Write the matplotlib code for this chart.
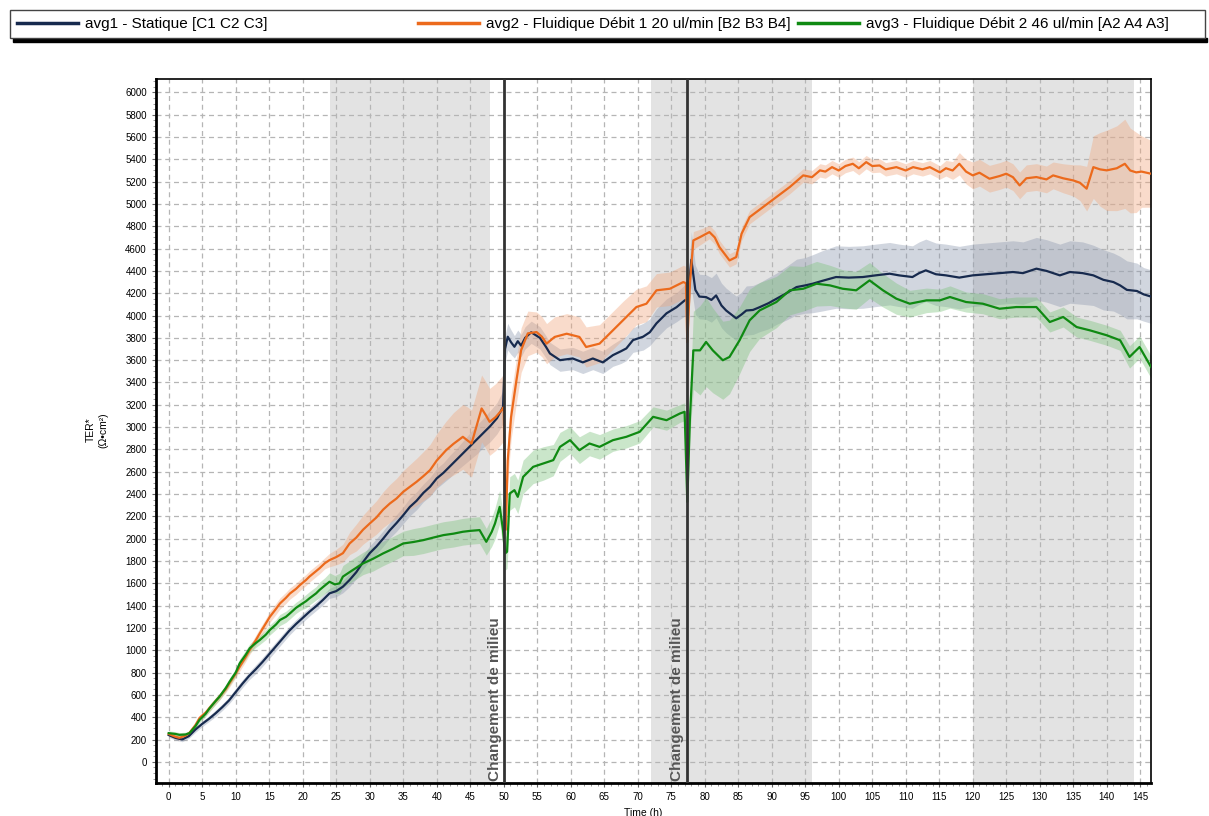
import numpy as np
import matplotlib
matplotlib.use("Agg")
import matplotlib.pyplot as plt
from matplotlib.lines import Line2D
from matplotlib.patches import Rectangle
from matplotlib.ticker import MultipleLocator

plt.rcParams['font.family'] = ['Liberation Sans', 'DejaVu Sans']

# avg1 - Statique
t1 = [0, 1, 2, 3, 4, 5, 6, 7, 8, 9, 10, 11, 12, 13, 14, 15, 16, 17, 18, 19, 20,
      21, 22, 23, 24, 25, 26, 27, 28, 29, 30, 31, 32, 33, 34, 35, 36, 37, 38, 39,
      40, 41, 42, 43, 44, 45, 46, 47, 48, 49, 49.9, 50.2, 50.6, 51.1, 51.6, 52.1,
      52.6, 53.2, 54.1, 55.4, 56.3, 56.9, 58.4, 60.3, 61.8, 63.3, 64.8, 66.3,
      67.5, 68.3, 69.3, 70.8, 71.8, 72.8, 74.3, 75.8, 77.0, 77.5, 78.0, 78.6,
      79.2, 80.2, 81.0, 81.7, 82.5, 83.2, 84.7, 85.5, 86.2, 87.2, 88.2, 89.5,
      90.7, 92.2, 93.7, 95, 96.1, 97.5, 99.6, 101.5, 103.6, 105.5, 107.6, 109,
      111, 112, 113, 114.5, 116, 118, 120, 122, 124, 126, 127.5, 129.5, 131, 133,
      134.5, 136.4, 138, 139.5, 141, 142, 143, 144.5, 145.5, 146.6]
y1 = [240, 215, 200, 230, 290, 340, 385, 435, 490, 550, 625, 700, 770, 830, 895,
      965, 1035, 1105, 1175, 1235, 1290, 1345, 1395, 1450, 1510, 1530, 1570, 1630,
      1700, 1790, 1870, 1930, 2000, 2075, 2140, 2210, 2285, 2340, 2410, 2465,
      2540, 2590, 2650, 2710, 2770, 2830, 2890, 2950, 3010, 3080, 3180, 3700,
      3810, 3760, 3720, 3770, 3730, 3800, 3850, 3800, 3720, 3660, 3600, 3615,
      3580, 3615, 3580, 3645, 3680, 3705, 3780, 3810, 3850, 3930, 4020, 4075,
      4135, 4150, 4500, 4230, 4170, 4165, 4140, 4180, 4090, 4045, 3975, 4010,
      4045, 4050, 4075, 4110, 4150, 4200, 4255, 4270, 4285, 4310, 4345, 4340,
      4345, 4360, 4375, 4360, 4345, 4380, 4405, 4370, 4360, 4340, 4360, 4370,
      4380, 4390, 4380, 4420, 4400, 4360, 4390, 4380, 4360, 4320, 4300, 4270,
      4230, 4220, 4190, 4170]
s1 = [20, 20, 20, 20, 25, 25, 25, 30, 30, 30, 35, 35, 35, 40, 40, 40, 40, 40, 40,
      40, 40, 40, 40, 45, 45, 50, 55, 60, 60, 65, 65, 70, 70, 70, 75, 75, 80, 80,
      80, 85, 90, 90, 100, 100, 110, 120, 130, 130, 140, 140, 150, 120, 120, 110,
      100, 100, 100, 100, 100, 100, 100, 100, 100, 100, 100, 100, 100, 100, 110,
      110, 110, 120, 120, 130, 130, 130, 140, 150, 250, 220, 200, 200, 200, 200,
      200, 200, 200, 200, 220, 220, 220, 230, 230, 240, 250, 250, 260, 270, 280,
      280, 280, 280, 280, 280, 280, 280, 280, 280, 280, 280, 280, 280, 280, 280,
      280, 280, 280, 280, 280, 280, 270, 270, 260, 260, 260, 250, 240, 240]

# avg2 - Fluidique Débit 1
t2 = [0, 1, 1.6, 2.5, 3.1, 4, 4.6, 5.5, 6.1, 7, 7.6, 8.5, 9.1, 10, 10.6, 11.5,
      12.1, 13, 13.6, 14.5, 15.1, 16, 16.6, 17.5, 18.1, 19, 19.6, 20.5, 21, 22,
      22.5, 23.3, 24, 25, 26, 27, 28, 29, 30, 31, 32, 33, 34, 35, 36, 37, 38, 39,
      40, 41.4, 42.5, 43.9, 44.6, 45.2, 46, 46.7, 47.3, 47.9, 48.8, 49.7, 50.0,
      50.3, 50.6, 51.1, 51.9, 52.6, 53.6, 54.9, 55.7, 56.4, 57.6, 59.4, 61.3,
      62.3, 64.3, 65.8, 67.8, 69.8, 71.3, 72.8, 74.8, 76.8, 77.2, 77.4, 77.8,
      78.3, 79.3, 80.7, 81.5, 82.2, 83.7, 84.7, 85.5, 86.7, 88.7, 90.7, 92.7,
      94.7, 96, 97.2, 98, 99, 100, 101, 102.1, 103, 104.1, 105, 106.1, 107,
      108.6, 110, 111.1, 112.5, 113.6, 115.1, 116, 117, 118, 119, 120, 121,
      122.5, 124, 125, 126, 127, 128, 129.5, 131, 132, 133.5, 135, 136, 137,
      138, 139, 140, 141.5, 142.7, 143.5, 144.4, 145.2, 146.6]
y2 = [250, 225, 215, 235, 260, 330, 393, 440, 483, 545, 585, 650, 707, 790, 853,
      940, 1003, 1090, 1152, 1240, 1300, 1370, 1419, 1470, 1509, 1550, 1585, 1630,
      1660, 1710, 1734, 1780, 1808, 1835, 1870, 1957, 2010, 2080, 2136, 2190,
      2260, 2315, 2360, 2420, 2465, 2510, 2560, 2614, 2700, 2793, 2850, 2913,
      2880, 2853, 3020, 3167, 3110, 3047, 3090, 3152, 3180, 2080, 2700, 3090,
      3420, 3690, 3840, 3852, 3810, 3748, 3808, 3837, 3808, 3718, 3748, 3837,
      3957, 4076, 4106, 4226, 4240, 4300, 4290, 3760, 4300, 4673, 4703, 4748,
      4700, 4613, 4494, 4524, 4733, 4882, 4972, 5062, 5152, 5256, 5240, 5301,
      5290, 5330, 5300, 5340, 5360, 5320, 5375, 5340, 5345, 5310, 5330, 5300,
      5330, 5310, 5330, 5283, 5320, 5300, 5360, 5290, 5256, 5280, 5226, 5250,
      5271, 5240, 5166, 5230, 5241, 5220, 5256, 5230, 5211, 5190, 5137, 5330,
      5310, 5301, 5320, 5360, 5300, 5283, 5290, 5271]
s2 = [20, 20, 20, 20, 20, 25, 25, 25, 30, 30, 30, 30, 35, 35, 40, 40, 40, 45, 45,
      45, 50, 50, 50, 50, 50, 50, 50, 50, 50, 50, 50, 50, 60, 70, 80, 100, 120,
      130, 140, 150, 160, 170, 180, 190, 200, 210, 220, 230, 240, 260, 280, 290,
      300, 300, 300, 300, 300, 300, 300, 300, 300, 250, 200, 200, 200, 200, 200,
      180, 180, 180, 180, 180, 180, 180, 170, 170, 170, 160, 160, 150, 150, 150,
      150, 100, 100, 80, 70, 60, 60, 60, 60, 60, 60, 60, 60, 60, 60, 60, 60, 60,
      60, 60, 60, 60, 60, 60, 60, 60, 60, 60, 60, 60, 60, 60, 60, 60, 70, 80,
      100, 110, 120, 120, 120, 120, 120, 120, 120, 120, 120, 120, 120, 130, 140,
      160, 200, 280, 330, 360, 380, 400, 380, 360, 320, 300]

# avg3 - Fluidique Débit 2
t3 = [0, 1, 1.6, 2.5, 3.1, 4, 4.6, 5.5, 6.1, 7, 7.6, 8.5, 9.1, 10, 10.6, 11.5,
      12.1, 13, 13.6, 14.5, 15.1, 16, 16.6, 17.5, 18.1, 19, 19.6, 20.5, 21, 22,
      22.5, 23.3, 24, 24.8, 25.5, 26, 27.5, 29, 30.5, 32, 33.5, 35, 36.5, 38,
      39.5, 41, 42.5, 43.9, 45, 46.4, 47.4, 48.2, 48.7, 49.4, 49.9, 50.2, 50.5,
      50.9, 51.6, 52.1, 52.9, 54.4, 55.9, 57.4, 58.4, 59.9, 61.3, 62.8, 64.3,
      66.3, 68.3, 70.3, 72.3, 74.3, 76.3, 77.0, 77.4, 77.8, 78.3, 79.3, 80.2,
      81.2, 82.7, 83.7, 85.2, 86.7, 88.2, 90.7, 92.7, 94.7, 96.7, 98.7, 100.6,
      102.6, 104.6, 106.6, 108.6, 110.6, 113.1, 115.1, 116.6, 119, 121.5, 124,
      126.5, 129.5, 131.5, 133.5, 135.5, 137.5, 140, 142, 143.4, 144.9, 146.6]
y3 = [257, 250, 242, 245, 257, 320, 376, 430, 480, 545, 585, 660, 719, 800, 883,
      960, 1018, 1065, 1092, 1140, 1182, 1230, 1271, 1300, 1331, 1380, 1405,
      1440, 1465, 1510, 1540, 1580, 1614, 1590, 1600, 1660, 1720, 1778, 1820,
      1868, 1910, 1957, 1970, 1987, 2010, 2032, 2045, 2062, 2070, 2077, 1972,
      2060, 2136, 2285, 2077, 1868, 1883, 2405, 2435, 2375, 2554, 2644, 2674,
      2704, 2823, 2883, 2793, 2853, 2823, 2883, 2913, 2958, 3092, 3062, 3122,
      3137, 2330, 3092, 3688, 3688, 3763, 3688, 3599, 3629, 3778, 3957, 4046,
      4121, 4226, 4240, 4285, 4270, 4240, 4226, 4315, 4226, 4151, 4106, 4136,
      4136, 4166, 4121, 4106, 4061, 4076, 4076, 3942, 3987, 3897, 3867, 3823,
      3778, 3629, 3718, 3540]
s3 = [20, 20, 20, 20, 20, 25, 25, 25, 30, 30, 30, 30, 35, 35, 40, 40, 40, 40, 40,
      45, 45, 45, 50, 50, 50, 50, 50, 60, 60, 60, 70, 70, 80, 80, 90, 100, 100,
      100, 110, 110, 110, 110, 120, 120, 120, 120, 120, 120, 120, 120, 120, 130,
      140, 150, 150, 150, 150, 150, 150, 150, 150, 150, 150, 140, 130, 120, 120,
      110, 110, 100, 100, 100, 90, 90, 80, 80, 80, 150, 350, 400, 400, 380, 350,
      330, 300, 280, 250, 230, 220, 200, 200, 180, 170, 170, 160, 150, 140, 120,
      110, 100, 100, 90, 90, 90, 90, 90, 90, 90, 90, 90, 90, 90, 100, 100, 100]

shade_ranges = [(24, 48), (72, 96), (120, 144)]
change_times = [50.1, 77.3]

labels = ['avg1 - Statique [C1 C2 C3]',
          'avg2 - Fluidique Débit 1 20 ul/min [B2 B3 B4]',
          'avg3 - Fluidique Débit 2 46 ul/min [A2 A4 A3]']
colors = ['#172a4e', '#ec6a1c', '#0f8a12']
band_colors = ['#8e9ab0', '#f2a77d', '#7cc27c']

fig = plt.figure(figsize=(12.09, 8.16), dpi=100)
ax = fig.add_axes([0.129, 0.0404, 0.823, 0.8628])

for a, b in shade_ranges:
    ax.axvspan(a, b, color='#e3e3e3', zorder=0.2, lw=0)

series = [(t1, y1, s1), (t2, y2, s2), (t3, y3, s3)]
for (t, y, s), c, bc in zip(series, colors, band_colors):
    t = np.array(t); y = np.array(y); s = np.array(s)
    ax.fill_between(t, y - s, y + s, color=bc, alpha=0.4, lw=0, zorder=2)
for (t, y, s), c in zip(series, colors):
    ax.plot(t, y, color=c, lw=1.6, zorder=3)

for xc in change_times:
    ax.axvline(xc, color='#333333', lw=2, zorder=4)
    ax.text(xc - 0.4, -170, 'Changement de milieu', rotation=90, ha='right',
            va='bottom', fontsize=11, fontweight='bold', color='#555555', zorder=5)

ax.set_xlim(-1.9, 146.6)
ax.set_ylim(-190, 6120)
ax.set_xticks(np.arange(0, 146, 5))
ax.set_yticks(np.arange(0, 6001, 200))
ax.xaxis.set_minor_locator(MultipleLocator(1))
ax.yaxis.set_minor_locator(MultipleLocator(50))
ax.tick_params(axis='both', which='major', labelsize=7, length=3, color='#666666')
ax.tick_params(axis='both', which='minor', length=2, color='#888888')
ax.set_axisbelow(True)
ax.grid(True, which='major', color='#b5b5b5', linestyle=(0, (4, 3)), lw=0.9)
for side in ['left', 'bottom']:
    ax.spines[side].set_linewidth(2)
for side in ['top', 'right']:
    ax.spines[side].set_linewidth(1.2)
ax.set_xlabel('Time (h)', fontsize=7.5, labelpad=3)
ax.xaxis.set_label_coords(0.49, -0.036)
fig.text(97 / 1209, 1 - 430 / 816, 'TER*\n(Ω•cm²)', rotation=90, ha='center',
         va='center', fontsize=7.5, linespacing=1.3)

# legend bar at the top
fig.patches.append(Rectangle((13 / 1209, 1 - 42 / 816), 1194 / 1209, 4 / 816,
                             transform=fig.transFigure, color='black', zorder=1))
fig.patches.append(Rectangle((10 / 1209, 1 - 38 / 816), 1195 / 1209, 28 / 816,
                             transform=fig.transFigure, facecolor='white',
                             edgecolor='#444444', lw=1, zorder=2))
leg_x = [17 / 1209, 418 / 1209, 798 / 1209]
for lab, c, lx in zip(labels, colors, leg_x):
    h = Line2D([], [], color=c, lw=2.5)
    lg = fig.legend(handles=[h], labels=[lab], loc='center left',
                    bbox_to_anchor=(lx, 1 - 24 / 816), frameon=False, fontsize=11,
                    handlelength=4.0, handletextpad=0.45, borderpad=0,
                    borderaxespad=0)
    lg.set_zorder(3)

fig.savefig('out.png', dpi=100)
